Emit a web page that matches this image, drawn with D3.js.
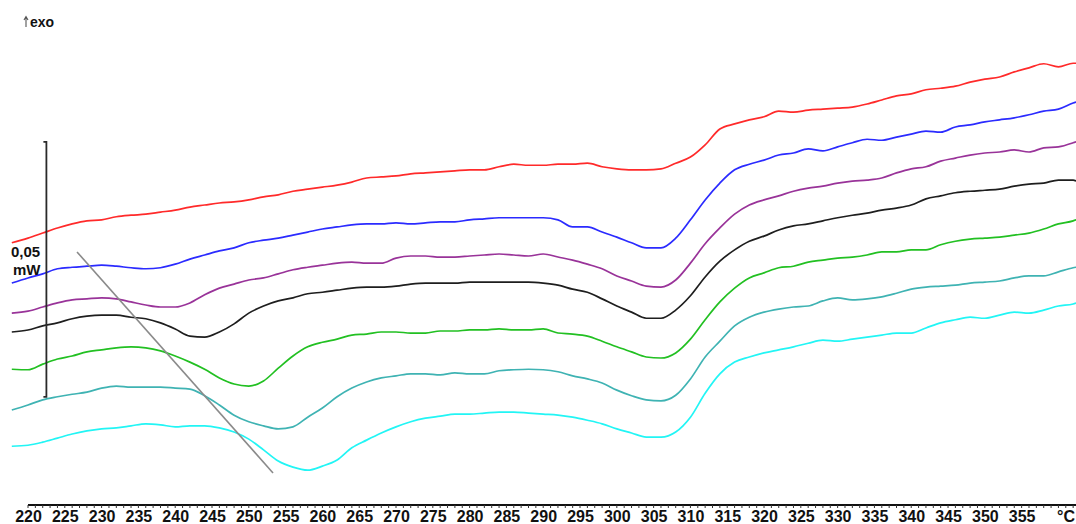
<!DOCTYPE html>
<html>
<head>
<meta charset="utf-8">
<script src="https://cdn.jsdelivr.net/npm/d3@7"></script>
<style>
  html, body { margin: 0; padding: 0; background: #fff; }
  svg { display: block; }
  text { font-family: "Liberation Sans", Arial, sans-serif; }
</style>
</head>
<body>
<svg id="chart" width="1076" height="524"></svg>
<script>
// Temperature grid (°C)
const temps = [217.8,220,222,224,226,228,230,232,234,236,238,240,242,244,246,248,250,252,254,256,258,260,262,264,266,268,270,272,274,276,278,280,282,284,286,288,290,292,294,296,298,300,302,304,306,308,310,312,314,316,318,320,322,324,326,328,330,332,334,336,338,340,342,344,346,348,350,352,354,356,358,360,362,362.4];

// Heat flow (µW, curves offset vertically as in the thermogram)
const redVals = [52.4,53.3,54.3,55.3,56.1,56.7,56.9,57.5,57.8,58.0,58.4,58.8,59.4,59.8,60.2,60.4,60.8,61.4,61.8,62.5,62.9,63.3,63.7,64.3,65.1,65.3,65.5,65.9,66.1,66.3,66.5,66.7,66.7,67.3,67.8,67.6,67.6,67.8,67.8,68.0,67.3,66.9,66.7,66.7,66.9,68.0,69.2,71.6,74.7,75.7,76.5,77.1,78.2,78.0,78.4,78.6,78.8,79.0,79.6,80.4,81.2,81.6,82.4,82.7,83.1,83.9,84.5,84.9,85.9,86.7,87.5,86.9,87.6,87.6];
const blueVals = [44.5,45.5,46.3,47.3,47.6,47.8,48.0,47.8,47.5,47.3,47.5,48.2,49.2,50.0,50.8,51.4,52.4,52.9,53.3,53.9,54.5,55.1,55.5,55.9,56.1,56.1,56.3,56.1,56.3,56.5,56.5,56.9,57.1,57.3,57.3,57.3,57.3,56.9,55.5,55.5,54.5,53.5,52.4,51.4,51.4,53.3,56.9,60.8,64.1,66.7,67.8,68.6,69.6,70.0,70.8,70.4,71.2,72.0,72.7,72.5,73.1,73.7,74.3,74.1,75.1,75.5,76.1,76.5,76.9,77.5,78.2,78.6,79.8,80.0];
const purpleVals = [38.6,39.0,39.8,40.6,41.2,41.4,41.6,41.4,40.8,40.2,39.8,39.8,40.6,42.2,43.5,44.3,45.1,45.5,46.3,47.1,47.6,48.0,48.4,48.6,48.4,48.4,49.4,49.8,49.8,49.6,49.6,49.8,50.0,50.2,50.0,49.8,50.2,49.6,49.0,48.2,47.3,45.9,44.9,43.9,43.7,45.1,48.4,52.2,55.3,58.0,59.8,60.8,61.6,62.5,63.1,63.5,64.1,64.5,64.7,65.1,66.1,66.9,67.3,68.4,69.0,69.6,70.0,70.2,70.6,70.2,71.0,71.2,72.0,72.2];
const blackVals = [34.9,35.3,36.1,36.7,37.5,38.0,38.2,38.2,37.8,37.5,36.7,35.5,34.1,33.9,34.9,36.5,38.6,40.0,41.0,41.6,42.4,42.7,43.1,43.5,43.7,43.7,43.9,44.3,44.5,44.5,44.5,44.7,44.7,44.7,44.7,44.7,44.5,44.1,43.3,42.7,41.4,40.0,38.8,37.6,37.6,39.2,42.0,45.7,48.8,51.0,52.7,53.7,54.9,55.7,56.1,56.7,57.3,57.8,58.2,58.8,59.2,59.8,61.0,61.6,62.2,62.5,62.7,62.9,63.5,63.9,64.1,64.7,64.7,64.5];
const greenVals = [27.6,27.5,28.6,29.6,30.2,31.0,31.4,31.8,32.0,31.8,31.2,30.2,29.0,27.6,25.9,24.7,24.3,25.3,27.8,30.2,32.0,32.9,33.5,34.3,34.5,34.9,34.9,34.7,34.7,35.1,35.1,35.3,35.3,35.5,35.3,35.3,35.5,34.7,34.5,34.1,33.1,32.0,31.0,30.0,29.8,30.8,33.5,37.3,40.8,43.5,45.5,46.5,47.5,47.8,48.6,49.0,49.4,49.6,50.0,50.6,50.6,51.0,51.0,52.0,52.7,53.1,53.3,53.5,53.9,54.3,55.1,56.1,56.7,56.9];
const tealVals = [19.6,20.6,21.6,22.2,22.7,23.1,23.9,24.3,24.1,24.1,24.1,23.9,23.7,22.4,20.6,18.6,17.3,16.5,15.9,16.3,18.2,20.0,22.2,23.9,25.1,25.9,26.3,26.7,26.7,26.5,26.9,26.7,26.7,27.3,27.5,27.6,27.5,27.1,26.3,25.7,24.9,23.5,22.4,21.6,21.4,22.5,25.7,30.0,33.1,36.1,37.8,38.8,39.4,39.8,40.0,41.0,41.6,41.2,41.4,41.8,42.5,43.3,43.7,43.9,44.1,44.5,44.7,44.9,45.5,45.9,45.9,46.7,47.5,47.6];
const cyanVals = [12.5,12.7,13.3,14.1,14.9,15.5,15.9,16.1,16.5,16.9,16.7,16.3,16.5,16.5,16.1,15.3,13.9,11.8,9.6,8.4,7.8,8.6,9.8,12.2,13.7,15.1,16.3,17.3,18.0,18.4,18.8,18.8,19.0,19.2,19.2,19.0,18.8,18.6,18.2,17.6,16.9,15.9,15.1,14.3,14.3,15.3,18.2,22.9,26.7,29.0,30.0,30.8,31.4,32.0,32.7,33.3,33.1,33.5,33.9,34.3,34.7,34.7,35.7,36.7,37.3,37.8,37.6,38.2,38.8,38.6,39.2,40.0,40.4,40.6];

const seriesNames = ["red", "blue", "purple", "black", "green", "teal", "cyan"];
const seriesColors = ["#ff2a2a", "#2b2bff", "#993399", "#1e1e1e", "#22c022", "#3fb3b3", "#22f5f5"];
const seriesValues = [redVals, blueVals, purpleVals, blackVals, greenVals, tealVals, cyanVals];

// Axis ticks
const majorTicks = d3.range(220, 356, 5);
const minorTicks = d3.range(220, 363, 1);

// Annotations
const scaleBarTemp = 222.5;     // position of the 0.05 mW bar
const scaleBarBase = 22.2;      // µW
const scaleBarSpan = 50;        // µW = 0.05 mW
const onsetLine = [[226.66, 50.6], [253.29, 7.25]];

const svg = d3.select("#chart");

const x = d3.scaleLinear().domain([220, 362.4]).range([28, 1076.1]);
const y = d3.scaleLinear().domain([0, 100]).range([510, 0]);

// Curves
const line = d3.line()
  .x((d, i) => x(temps[i]))
  .y(d => y(d))
  .curve(d3.curveMonotoneX);

svg.append("g").selectAll("path")
  .data(seriesValues)
  .join("path")
  .attr("d", d => line(d))
  .attr("fill", "none")
  .attr("stroke", (d, i) => seriesColors[i])
  .attr("stroke-width", 1.7)
  .attr("stroke-linejoin", "round");

// Gray onset line
svg.append("line")
  .attr("x1", x(onsetLine[0][0])).attr("y1", y(onsetLine[0][1]))
  .attr("x2", x(onsetLine[1][0])).attr("y2", y(onsetLine[1][1]))
  .attr("stroke", "#8a8a8a")
  .attr("stroke-width", 1.6);

// Scale bar
const sbx = x(scaleBarTemp);
const sbTop = y(scaleBarBase + scaleBarSpan);
const sbBot = y(scaleBarBase);
svg.append("path")
  .attr("d", `M${sbx - 3},${sbTop} H${sbx} V${sbBot} H${sbx - 3}`)
  .attr("fill", "none")
  .attr("stroke", "#2a2a2a")
  .attr("stroke-width", 1.8);

svg.append("text").attr("x", 11).attr("y", 257)
  .attr("font-size", 15).attr("font-weight", "bold").attr("fill", "#111")
  .text("0,05");
svg.append("text").attr("x", 13).attr("y", 275)
  .attr("font-size", 15).attr("font-weight", "bold").attr("fill", "#111")
  .text("mW");

// exo label with thin up arrow
svg.append("path")
  .attr("d", "M26,27 V17 M24,20 L26,16.5 L28,20")
  .attr("fill", "none").attr("stroke", "#555").attr("stroke-width", 1.1);
svg.append("text").attr("x", 30).attr("y", 27)
  .attr("font-size", 14).attr("font-weight", "bold").attr("fill", "#111")
  .text("exo");

// X axis
const axisY = 505;
const gx = svg.append("g").attr("transform", `translate(0,${axisY})`);
gx.append("line")
  .attr("x1", x(220)).attr("x2", 1076)
  .attr("y1", 0).attr("y2", 0)
  .attr("stroke", "#111").attr("stroke-width", 2);
gx.selectAll("line.minor")
  .data(minorTicks)
  .join("line")
  .attr("class", "minor")
  .attr("x1", d => x(d)).attr("x2", d => x(d))
  .attr("y1", 0).attr("y2", 3)
  .attr("stroke", "#333").attr("stroke-width", 1);

const axis = d3.axisBottom(x).tickValues(majorTicks).tickSize(0).tickPadding(0).tickFormat(d3.format("d"));
const ga = gx.append("g").call(axis);
ga.attr("font-size", null).attr("font-family", null);
ga.select(".domain").remove();
ga.selectAll("text")
  .attr("y", 17).attr("dy", 0)
  .style("font-size", "16px").style("font-weight", "bold")
  .style("font-family", "'Liberation Sans', Arial, sans-serif")
  .attr("fill", "#111");

svg.append("text").attr("x", 1057).attr("y", axisY + 17)
  .style("font-size", "16px").style("font-weight", "bold").attr("fill", "#111")
  .text("°C");
</script>
</body>
</html>
